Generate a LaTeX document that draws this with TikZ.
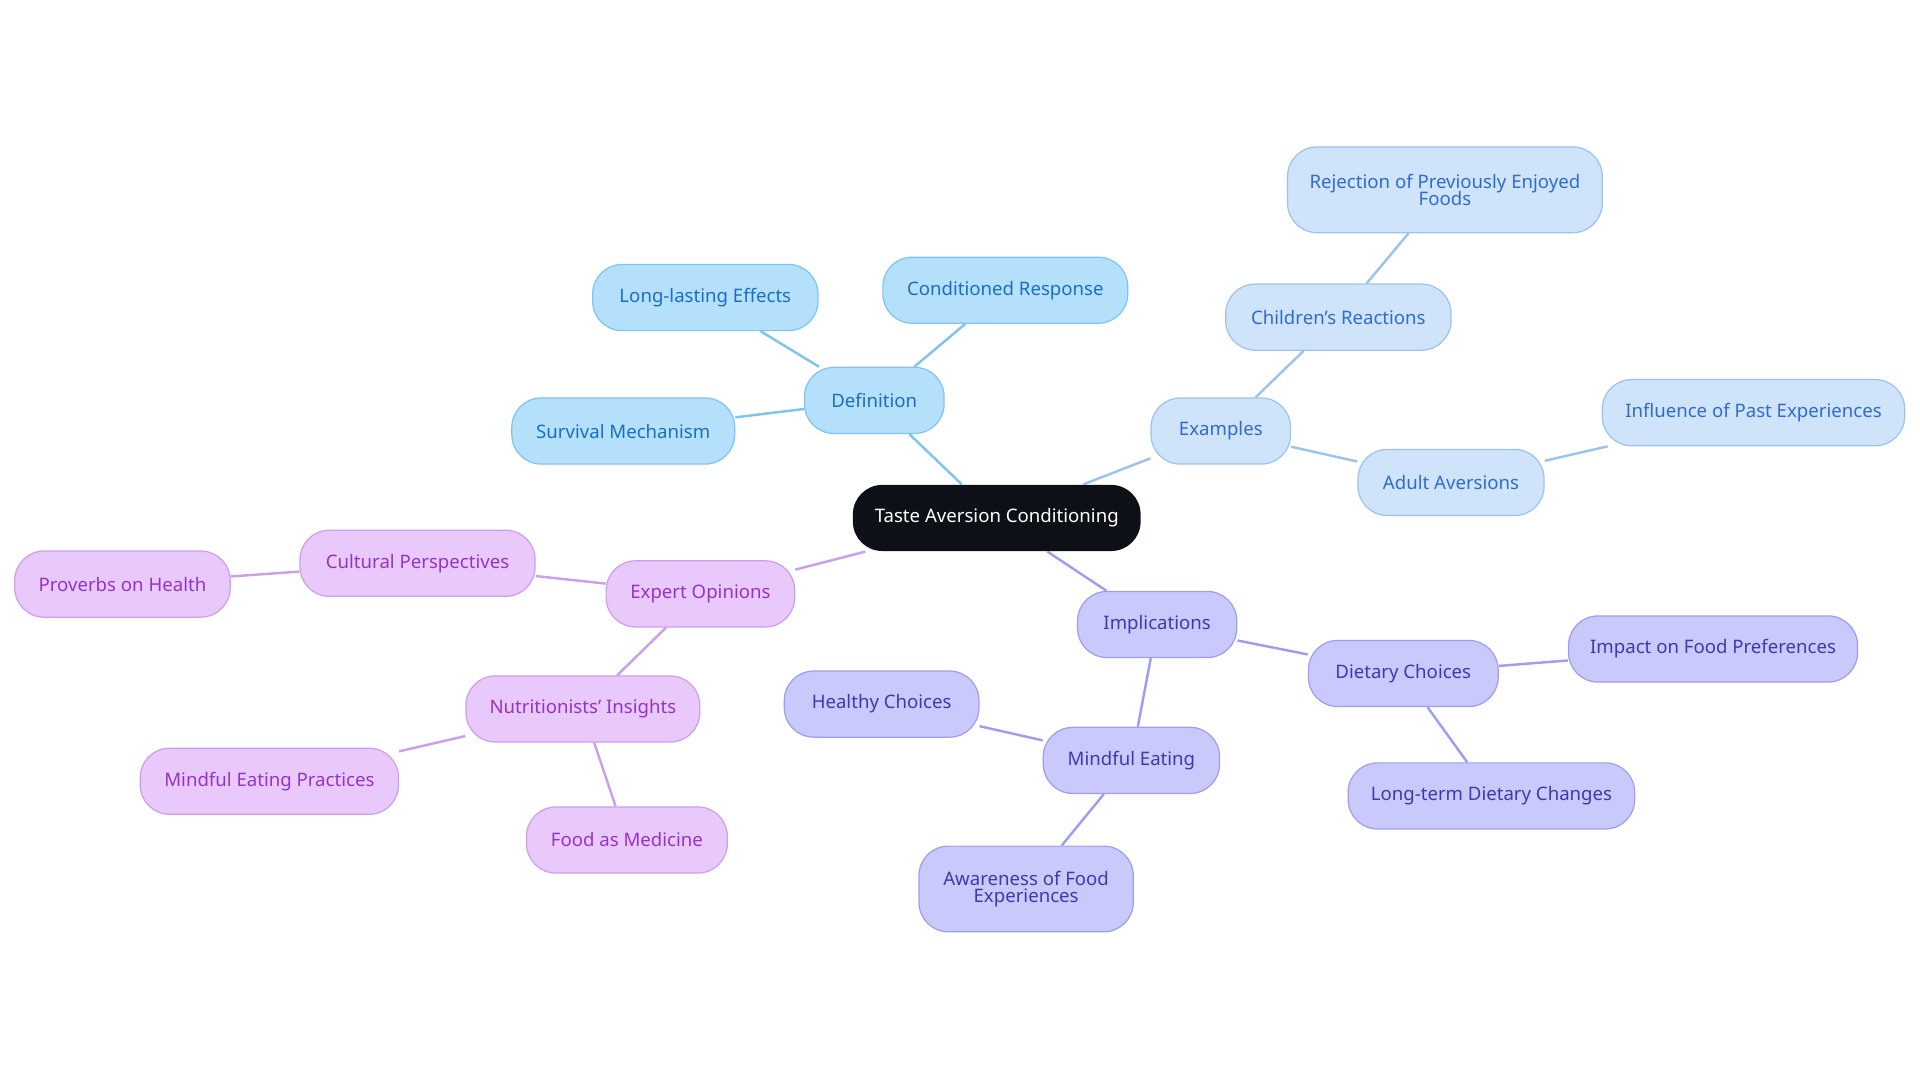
\documentclass[tikz,border=0pt]{standalone}
\usepackage{fontspec}
\setmainfont{Noto Sans}
\usetikzlibrary{backgrounds}
\definecolor{cb}{HTML}{0D1117}
\definecolor{af}{HTML}{B5E0FC}\definecolor{ad}{HTML}{7EC4F0}\definecolor{at}{HTML}{1B6FBF}
\definecolor{bf}{HTML}{CFE3FA}\definecolor{bd}{HTML}{9CC3EE}\definecolor{bt}{HTML}{2F6CCB}
\definecolor{cf}{HTML}{C9C9FB}\definecolor{cd}{HTML}{9E9EEE}\definecolor{ct}{HTML}{3B3BAE}
\definecolor{df}{HTML}{E9C9FB}\definecolor{dd}{HTML}{CE9EEE}\definecolor{dt}{HTML}{9434C4}
\begin{document}
\begin{tikzpicture}[x=0.5pt,y=-0.5pt,
 box/.style={rounded corners=12pt,minimum height=27pt,inner sep=2pt,align=center,font=\fontsize{7.6}{8}\selectfont,line width=0.5pt},
 A/.style={box,fill=af,draw=ad,text=at},
 B/.style={box,fill=bf,draw=bd,text=bt},
 C/.style={box,fill=cf,draw=cd,text=ct},
 D/.style={box,fill=df,draw=dd,text=dt},
 ea/.style={ad,line width=1pt},eb/.style={bd,line width=1pt},ec/.style={cd,line width=1pt},ed/.style={dd,line width=1pt}]
\useasboundingbox (0,0) rectangle (1568,884);
\node[box,fill=cb,text=white,minimum width=117.5pt] (root) at (814,423) {Taste Aversion Conditioning};
\node[A,minimum width=57pt] (def) at (714,327) {Definition};
\node[A,minimum width=92pt] (lle) at (576,243) {Long-lasting Effects};
\node[A,minimum width=100pt] (cr) at (821,237) {Conditioned Response};
\node[A,minimum width=91pt] (sm) at (509,352) {Survival Mechanism};
\node[B,minimum width=57pt] (ex) at (997,352) {Examples};
\node[B,minimum width=92pt] (chr) at (1093,259) {Children’s Reactions};
\node[B,minimum width=128.5pt,minimum height=35pt] (rej) at (1180,155) {Rejection of Previously Enjoyed\\[-1pt]Foods};
\node[B,minimum width=76pt] (aa) at (1185,394) {Adult Aversions};
\node[B,minimum width=123.5pt] (ipe) at (1432,337) {Influence of Past Experiences};
\node[C,minimum width=65pt] (imp) at (945,510) {Implications};
\node[C,minimum width=77.5pt] (dc) at (1146,550) {Dietary Choices};
\node[C,minimum width=118pt] (ifp) at (1399,530) {Impact on Food Preferences};
\node[C,minimum width=117pt] (ltd) at (1218,650) {Long-term Dietary Changes};
\node[C,minimum width=72pt] (me) at (924,621) {Mindful Eating};
\node[C,minimum width=79.5pt] (hc) at (720,575) {Healthy Choices};
\node[C,minimum width=87.5pt,minimum height=35pt] (afe) at (838,726) {Awareness of Food\\[-1pt]Experiences};
\node[D,minimum width=77pt] (eo) at (572,485) {Expert Opinions};
\node[D,minimum width=96pt] (cp) at (341,460) {Cultural Perspectives};
\node[D,minimum width=88pt] (ph) at (100,477) {Proverbs on Health};
\node[D,minimum width=95.5pt] (ni) at (476,579) {Nutritionists’ Insights};
\node[D,minimum width=105.5pt] (mep) at (220,638) {Mindful Eating Practices};
\node[D,minimum width=82pt] (fam) at (512,686) {Food as Medicine};
\begin{scope}[on background layer]
\draw[ea] (root)--(def); \draw[ea] (def)--(lle); \draw[ea] (def)--(cr); \draw[ea] (def)--(sm);
\draw[eb] (root)--(ex); \draw[eb] (ex)--(chr); \draw[eb] (chr)--(rej); \draw[eb] (ex)--(aa); \draw[eb] (aa)--(ipe);
\draw[ec] (root)--(imp); \draw[ec] (imp)--(dc); \draw[ec] (dc)--(ifp); \draw[ec] (dc)--(ltd); \draw[ec] (imp)--(me); \draw[ec] (me)--(hc); \draw[ec] (me)--(afe);
\draw[ed] (root)--(eo); \draw[ed] (eo)--(cp); \draw[ed] (cp)--(ph); \draw[ed] (eo)--(ni); \draw[ed] (ni)--(mep); \draw[ed] (ni)--(fam);
\end{scope}
\end{tikzpicture}
\end{document}
